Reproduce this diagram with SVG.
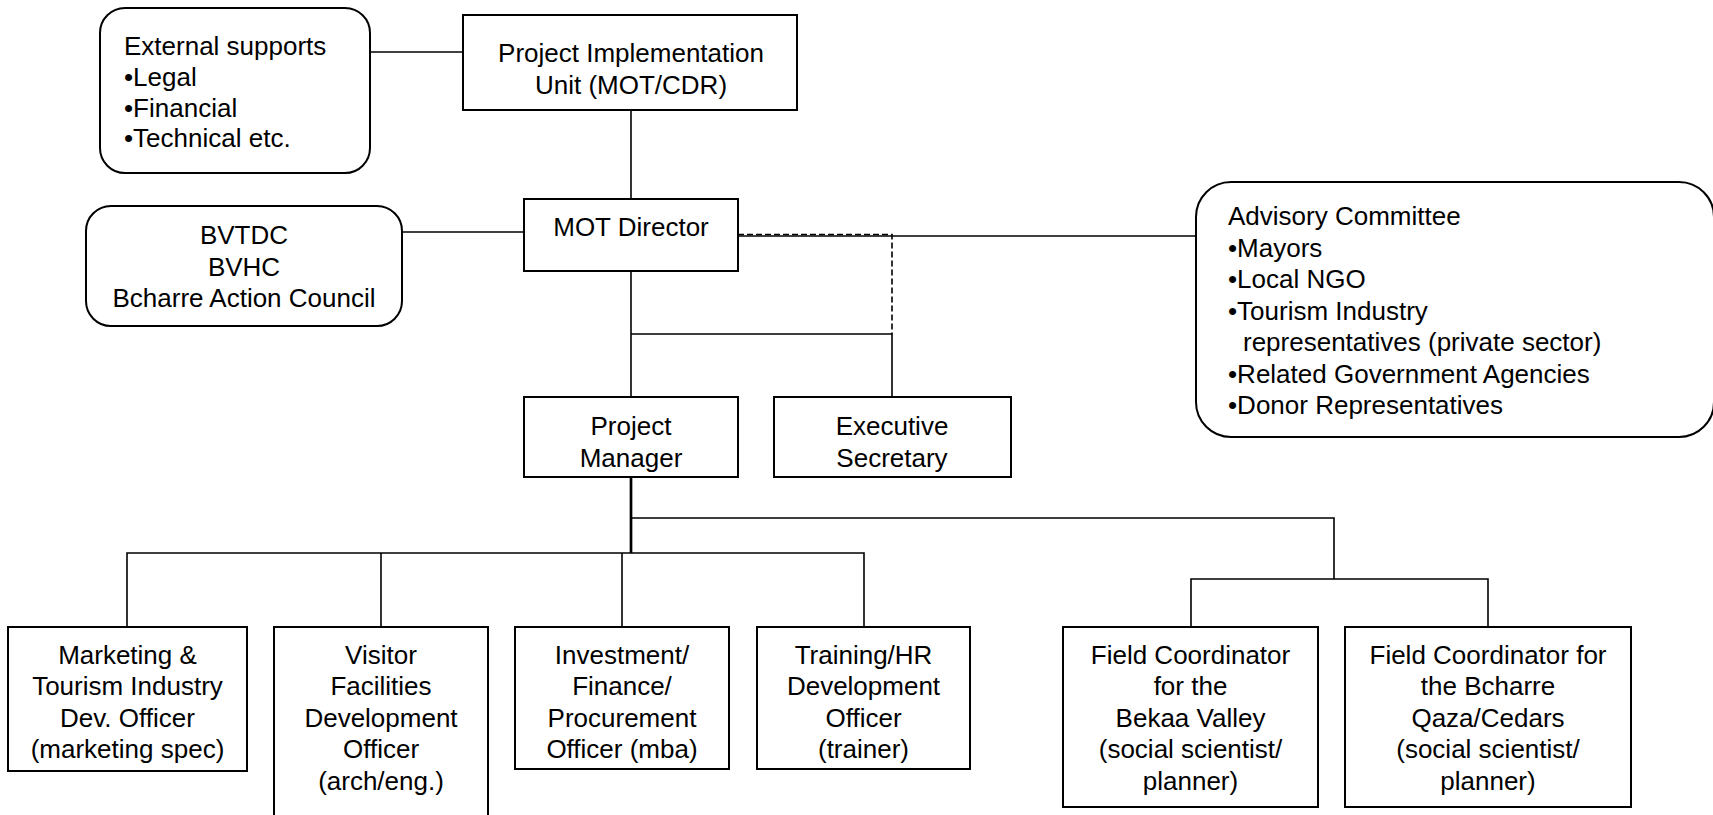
<svg xmlns="http://www.w3.org/2000/svg" width="1713" height="815" viewBox="0 0 1713 815">
<style>
.box{fill:#fff;stroke:#000;stroke-width:2}
.ln{fill:none;stroke:#000;stroke-width:1.6}
.thick{fill:none;stroke:#000;stroke-width:2.7}
.dash{fill:none;stroke:#000;stroke-width:1.6;stroke-dasharray:6 3}
text{font-family:"Liberation Sans",Arial,sans-serif;font-size:26px;fill:#000}
.c{text-anchor:middle}
</style>
<rect width="1713" height="815" fill="#fff"/>
<g id="connectors">
<path class="ln" d="M370 52H463"/>
<path class="ln" d="M631 110V199"/>
<path class="ln" d="M402 232H524"/>
<path class="ln" d="M738 236H1196"/>
<path class="dash" d="M738 234.5H892V334"/>
<path class="ln" d="M631 271V397"/>
<path class="ln" d="M631 334H892V397"/>
<path class="thick" d="M631 477V553"/>
<path class="ln" d="M631 518H1334V579"/>
<path class="ln" d="M1191 627V579H1488V627"/>
<path class="ln" d="M127 627V553H864V627"/>
<path class="ln" d="M381 553V627"/>
<path class="ln" d="M622 553V627"/>
</g>
<g id="external">
<rect class="box" x="100" y="8" width="270" height="165" rx="25" ry="25"/>
<text x="124" y="55">External supports</text>
<text x="124" y="86">•Legal</text>
<text x="124" y="117">•Financial</text>
<text x="124" y="147">•Technical etc.</text>
</g>
<g id="piu">
<rect class="box" x="463" y="15" width="334" height="95"/>
<text class="c" x="631" y="62">Project Implementation</text>
<text class="c" x="631" y="93.5">Unit (MOT/CDR)</text>
</g>
<g id="bvtdc">
<rect class="box" x="86" y="206" width="316" height="120" rx="25" ry="25"/>
<text class="c" x="244" y="244">BVTDC</text>
<text class="c" x="244" y="275.5">BVHC</text>
<text class="c" x="244" y="307">Bcharre Action Council</text>
</g>
<g id="mot">
<rect class="box" x="524" y="199" width="214" height="72"/>
<text class="c" x="631" y="236">MOT Director</text>
</g>
<g id="advisory">
<rect class="box" x="1196" y="182" width="518" height="255" rx="35" ry="35"/>
<text x="1228" y="225">Advisory Committee</text>
<text x="1228" y="256.5">•Mayors</text>
<text x="1228" y="288">•Local NGO</text>
<text x="1228" y="319.5">•Tourism Industry</text>
<text x="1243" y="351">representatives (private sector)</text>
<text x="1228" y="382.5">•Related Government Agencies</text>
<text x="1228" y="414">•Donor Representatives</text>
</g>
<g id="pm">
<rect class="box" x="524" y="397" width="214" height="80"/>
<text class="c" x="631" y="435">Project</text>
<text class="c" x="631" y="466.5">Manager</text>
</g>
<g id="exec">
<rect class="box" x="774" y="397" width="237" height="80"/>
<text class="c" x="892" y="435">Executive</text>
<text class="c" x="892" y="466.5">Secretary</text>
</g>
<g id="marketing">
<rect class="box" x="8" y="627" width="239" height="144"/>
<text class="c" x="127.5" y="663.5">Marketing &amp;</text>
<text class="c" x="127.5" y="695">Tourism Industry</text>
<text class="c" x="127.5" y="726.5">Dev. Officer</text>
<text class="c" x="127.5" y="758">(marketing spec)</text>
</g>
<g id="visitor">
<rect class="box" x="274" y="627" width="214" height="210"/>
<text class="c" x="381" y="663.5">Visitor</text>
<text class="c" x="381" y="695">Facilities</text>
<text class="c" x="381" y="726.5">Development</text>
<text class="c" x="381" y="758">Officer</text>
<text class="c" x="381" y="789.5">(arch/eng.)</text>
</g>
<g id="investment">
<rect class="box" x="515" y="627" width="214" height="142"/>
<text class="c" x="622" y="663.5">Investment/</text>
<text class="c" x="622" y="695">Finance/</text>
<text class="c" x="622" y="726.5">Procurement</text>
<text class="c" x="622" y="758">Officer (mba)</text>
</g>
<g id="training">
<rect class="box" x="757" y="627" width="213" height="142"/>
<text class="c" x="863.5" y="663.5">Training/HR</text>
<text class="c" x="863.5" y="695">Development</text>
<text class="c" x="863.5" y="726.5">Officer</text>
<text class="c" x="863.5" y="758">(trainer)</text>
</g>
<g id="field-bekaa">
<rect class="box" x="1063" y="627" width="255" height="180"/>
<text class="c" x="1190.5" y="663.5">Field Coordinator</text>
<text class="c" x="1190.5" y="695">for the</text>
<text class="c" x="1190.5" y="726.5">Bekaa Valley</text>
<text class="c" x="1190.5" y="758">(social scientist/</text>
<text class="c" x="1190.5" y="789.5">planner)</text>
</g>
<g id="field-bcharre">
<rect class="box" x="1345" y="627" width="286" height="180"/>
<text class="c" x="1488" y="663.5">Field Coordinator for</text>
<text class="c" x="1488" y="695">the Bcharre</text>
<text class="c" x="1488" y="726.5">Qaza/Cedars</text>
<text class="c" x="1488" y="758">(social scientist/</text>
<text class="c" x="1488" y="789.5">planner)</text>
</g>
</svg>
